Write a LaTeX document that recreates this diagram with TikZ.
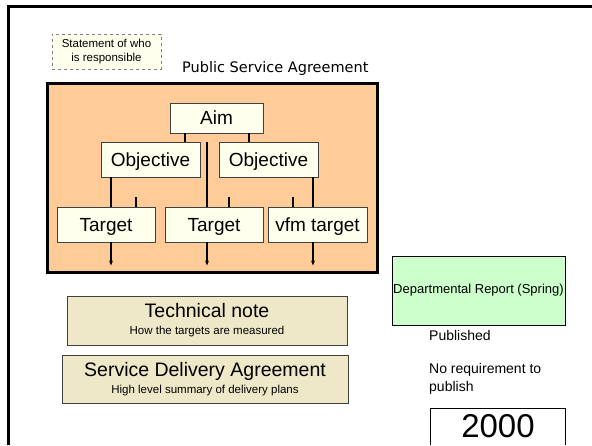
\documentclass[tikz,border=0pt]{standalone}
\usepackage{fontspec}
\setmainfont{Liberation Sans}
\newfontfamily\verdana{DejaVu Sans}
\usetikzlibrary{arrows.meta}
\definecolor{peach}{HTML}{FFCC99}
\definecolor{ivory}{HTML}{FFFFEE}
\definecolor{wheat}{HTML}{EEE8C8}
\definecolor{mint}{HTML}{CCFFCC}
\definecolor{edge}{HTML}{404040}
\begin{document}
\begin{tikzpicture}[x=1pt, y=-1pt,
	main/.style = {draw=edge, fill=ivory, line width=0.9pt, inner sep=0pt, minimum width=98pt, minimum height=35pt, text height=13.5pt, text depth=0pt, font=\fontsize{19}{22}\selectfont},
	note/.style = {draw=edge, fill=wheat, line width=1pt, inner sep=0pt, align=center, font=\fontsize{19.5}{17}\selectfont},
	small/.style = {inner sep=0pt, font=\fontsize{14}{17.4}\selectfont},
	link/.style = {line width=1.2pt},
	down/.style = {line width=1.2pt, -{Stealth[length=5pt,width=4pt]}}]
	\useasboundingbox (0,0) rectangle (592,445);
	\clip (0,0) rectangle (592,445);
	\fill[white] (0,0) rectangle (592,445);
	\draw[line width=3pt] (8,445) -- (8,6) -- (592,6);

	\node[draw=gray, dashed, fill=ivory, inner sep=0pt, minimum width=109pt, minimum height=35pt, align=center, font=\fontsize{11.5}{14}\selectfont] (who) at (106.5,51.5) {Statement of who\\is responsible};
	\node[anchor=base west, inner sep=0pt, font=\verdana\fontsize{14.5}{17}\selectfont] (psa label) at (182,72.5) {Public Service Agreement};
	\node[draw, fill=peach, line width=3pt, minimum width=330pt, minimum height=189pt] (psa) at (212,177.5) {};

	\node[main, minimum width=93pt, minimum height=30pt] (aim) at (216.5,118) {Aim};
	\node[main, minimum width=99pt] (obj1) at (150.5,159.5) {Objective};
	\node[main, minimum width=99pt] (obj2) at (268.5,159.5) {Objective};
	\node[main] (tgt1) at (106,224.5) {Target};
	\node[main] (tgt2) at (214,224.5) {Target};
	\node[main, minimum width=99pt] (tgt3) at (317.5,224.5) {vfm target};

	\draw[link] ([xshift=-31.5]aim.south) -- ([xshift=-31.5]aim.south |- obj1.north);
	\draw[link] ([xshift=32.5]aim.south) -- ([xshift=32.5]aim.south |- obj2.north);
	\coordinate (mid) at ([xshift=-7]tgt2.north);
	\draw[link] (mid |- obj1.north) -- (mid);
	\coordinate (left) at ([xshift=-39.5]obj1.south);
	\draw[link] (left) -- (left |- tgt1.north);
	\coordinate (right) at ([xshift=44.5]obj2.south);
	\draw[link] (right) -- (right |- tgt3.north);
	\draw[link] ([xshift=30]tgt1.north) -- ++(0,-10);
	\draw[link] ([xshift=15]tgt2.north) -- ++(0,-10);
	\draw[link] ([xshift=-24.5]tgt3.north) -- ++(0,-10);
	\draw[down] ([xshift=5]tgt1.south) -- ++(0,23);
	\draw[down] ([xshift=-7]tgt2.south) -- ++(0,23);
	\draw[down] ([xshift=-4.5]tgt3.south) -- ++(0,23);

	\node[note, minimum width=280pt, minimum height=49pt] (tech) at (207,320.5) {Technical note\\{\fontsize{11.5}{17}\selectfont How the targets are measured}};
	\node[note, minimum width=286pt, minimum height=48pt] (sda) at (205,379) {Service Delivery Agreement\\{\fontsize{11.5}{17}\selectfont High level summary of delivery plans}};

	\node[draw, fill=mint, line width=0.8pt, inner sep=0pt, minimum width=173pt, minimum height=69pt, font=\fontsize{13}{15}\selectfont] (dept) at (478.5,290.5) {Departmental Report (Spring)};
	\node[small, anchor=base west] (pub) at (429,340.7) {Published};
	\node[small, anchor=north west, align=left] (nopub) at (429,363.3) {No requirement to\\publish};
	\node[inner sep=0pt, anchor=north, minimum width=134pt, minimum height=37pt, text height=23.6pt, text depth=2.6pt, font=\fontsize{33}{36}\selectfont] (year) at (498,408) {2000};
	\draw[line width=0.8pt] (year.south west) -- (year.north west) -- (year.north east) -- (year.south east);
\end{tikzpicture}
\end{document}
